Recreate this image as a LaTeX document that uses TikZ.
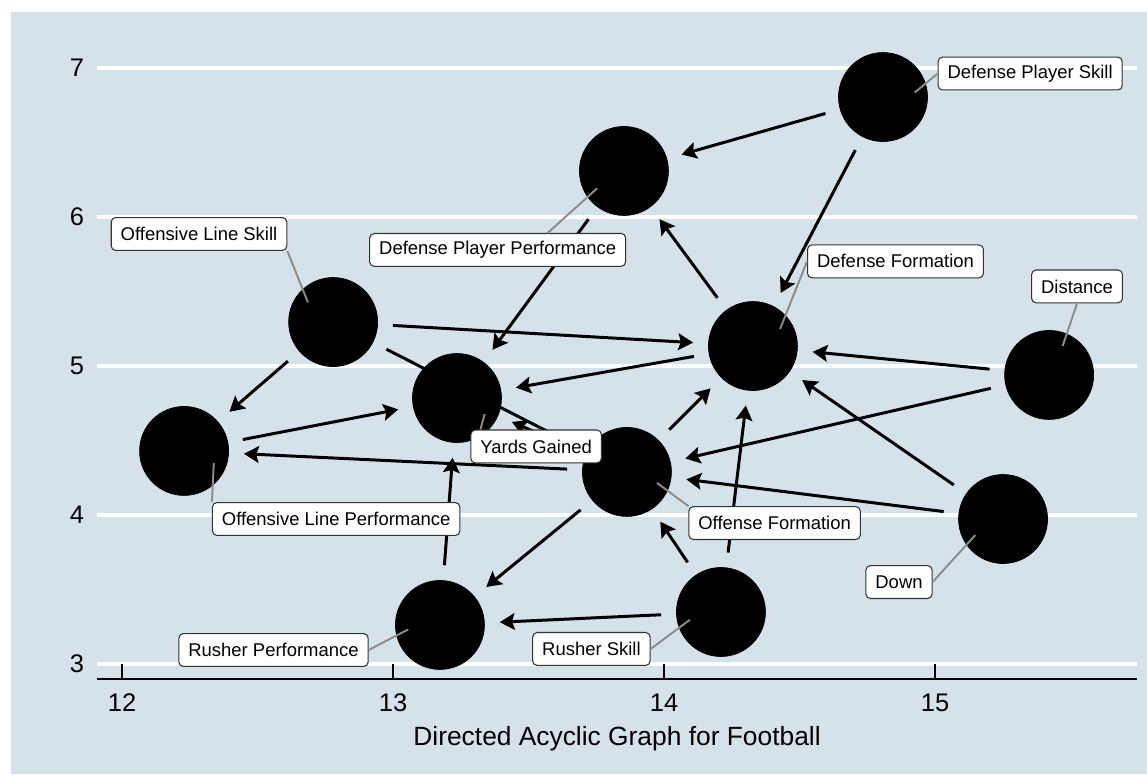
\documentclass[tikz,border=0pt]{standalone}
\usepackage{fontspec}
\setmainfont{Liberation Sans}
\usepackage{xcolor}
\usepackage{tikz}
\usetikzlibrary{arrows.meta}

\definecolor{bluishgray}{RGB}{214,226,233}
\definecolor{leadergray}{RGB}{140,140,140}

\tikzset{
  dagnode/.style={circle, fill=black, draw=black, minimum size=1.78cm, inner sep=0pt},
  dagarrow/.style={line width=1.7pt, -{Stealth[length=8.5pt,width=9.5pt,inset=1.5pt]},
    shorten <=0.3cm, shorten >=0.3cm},
  namebox/.style={draw=black!80, line width=0.6pt, fill=white, rounded corners=2.5pt,
    inner xsep=5.4pt, inner ysep=0pt, minimum height=18.7pt,
    font=\fontsize{10.5}{12}\selectfont},
  leader/.style={draw=leadergray, line width=1.1pt},
  gridline/.style={white, line width=2pt},
  axislabel/.style={font=\fontsize{14.5}{17}\selectfont},
}

\begin{document}
\begin{tikzpicture}[x=5.42cm, y=2.98cm]
        % page and plot region
        \fill[white] (11.5498,2.2617) rectangle (15.7823,7.4564);
        \useasboundingbox (11.5498,2.2617) rectangle (15.7823,7.4564);
        \fill[bluishgray] (11.5904,2.2617) rectangle (15.7823,7.3758);

        % grid and axes
        \foreach \y in {3,...,7} {
            \draw[gridline] (11.9077,\y) -- (15.7454,\y);
            \node[axislabel] (ylab\y) at (11.834,\y) {\y};
        }
        \draw[line width=1.1pt] (11.9077,2.8993) -- (15.7454,2.8993);
        \foreach \x in {12,...,15} {
            \draw[line width=1.1pt] (\x,2.8993) -- (\x,3);
            \node[axislabel] (xlab\x) at (\x,2.7383) {\x};
        }
        \node[axislabel, font=\fontsize{15}{18}\selectfont] (xtitle) at (13.8266,2.4966) {Directed Acyclic Graph for Football};

        % variables
        \node[dagnode] (dps) at (14.808,6.805) {};
        \node[dagnode] (dpp) at (13.852,6.309) {};
        \node[dagnode] (ols) at (12.779,5.295) {};
        \node[dagnode] (df) at (14.328,5.134) {};
        \node[dagnode] (dist) at (15.421,4.940) {};
        \node[dagnode] (yg) at (13.236,4.785) {};
        \node[dagnode] (olp) at (12.229,4.430) {};
        \node[dagnode] (of) at (13.863,4.289) {};
        \node[dagnode] (down) at (15.251,3.973) {};
        \node[dagnode] (rs) at (14.210,3.349) {};
        \node[dagnode] (rp) at (13.173,3.262) {};

        % causal arrows
        \draw[dagarrow] (dps) -- (dpp);
        \draw[dagarrow] (dps) -- (df);
        \draw[dagarrow] (dpp) -- (yg);
        \draw[dagarrow] (df) -- (dpp);
        \draw[dagarrow] (df) -- (yg);
        \draw[dagarrow] (ols) -- (df);
        \draw[dagarrow] (ols) -- (olp);
        \draw[dagarrow] (ols) -- (of);
        \draw[dagarrow] (olp) -- (yg);
        \draw[dagarrow] (of) -- (yg);
        \draw[dagarrow] (of) -- (olp);
        \draw[dagarrow] (of) -- (df);
        \draw[dagarrow] (of) -- (rp);
        \draw[dagarrow] (dist) -- (df);
        \draw[dagarrow] (dist) -- (of);
        \draw[dagarrow] (down) -- (of);
        \draw[dagarrow] (down) -- (df);
        \draw[dagarrow] (rs) -- (df);
        \draw[dagarrow] (rs) -- (of);
        \draw[dagarrow] (rs) -- (rp);
        \draw[dagarrow] (rp) -- (yg);

        % labels
        \node[namebox] (dpslab) at (15.351,6.963) {Defense Player Skill};
        \node[namebox] (dflab) at (14.854,5.702) {Defense Formation};
        \node[namebox] (distlab) at (15.524,5.534) {Distance};
        \node[namebox] (olslab) at (12.284,5.886) {Offensive Line Skill};
        \node[namebox] (dpplab) at (13.386,5.779) {Defense Player Performance};
        \node[namebox] (yglab) at (13.528,4.460) {Yards Gained};
        \node[namebox] (olplab) at (12.790,3.973) {Offensive Line Performance};
        \node[namebox] (oflab) at (14.408,3.946) {Offense Formation};
        \node[namebox] (downlab) at (14.867,3.550) {Down};
        \node[namebox] (rslab) at (13.732,3.101) {Rusher Skill};
        \node[namebox] (rplab) at (12.559,3.094) {Rusher Performance};

        \draw[leader] ([shift={(8:0.64cm)}]dps.center) -- (dpslab.west);
        \draw[leader] ([shift={(32:0.64cm)}]df.center) -- (dflab.west);
        \draw[leader] ([shift={(65:0.64cm)}]dist.center) -- (distlab.south);
        \draw[leader] ([shift={(142:0.64cm)}]ols.center) -- (olslab.south east);
        \draw[leader] ([shift={(213:0.64cm)}]dpp.center) -- ([xshift=1cm]dpplab.north);
        \draw[leader] ([shift={(330:0.64cm)}]yg.center) -- ([xshift=0.2cm]yglab.north west);
        \draw[leader] ([shift={(338:0.64cm)}]olp.center) -- (olplab.north west);
        \draw[leader] ([shift={(340:0.64cm)}]of.center) -- (oflab.north west);
        \draw[leader] ([shift={(210:0.64cm)}]down.center) -- (downlab.east);
        \draw[leader] ([shift={(194:0.64cm)}]rs.center) -- (rslab.east);
        \draw[leader] ([shift={(188:0.64cm)}]rp.center) -- (rplab.east);
    \end{tikzpicture}
\end{document}
